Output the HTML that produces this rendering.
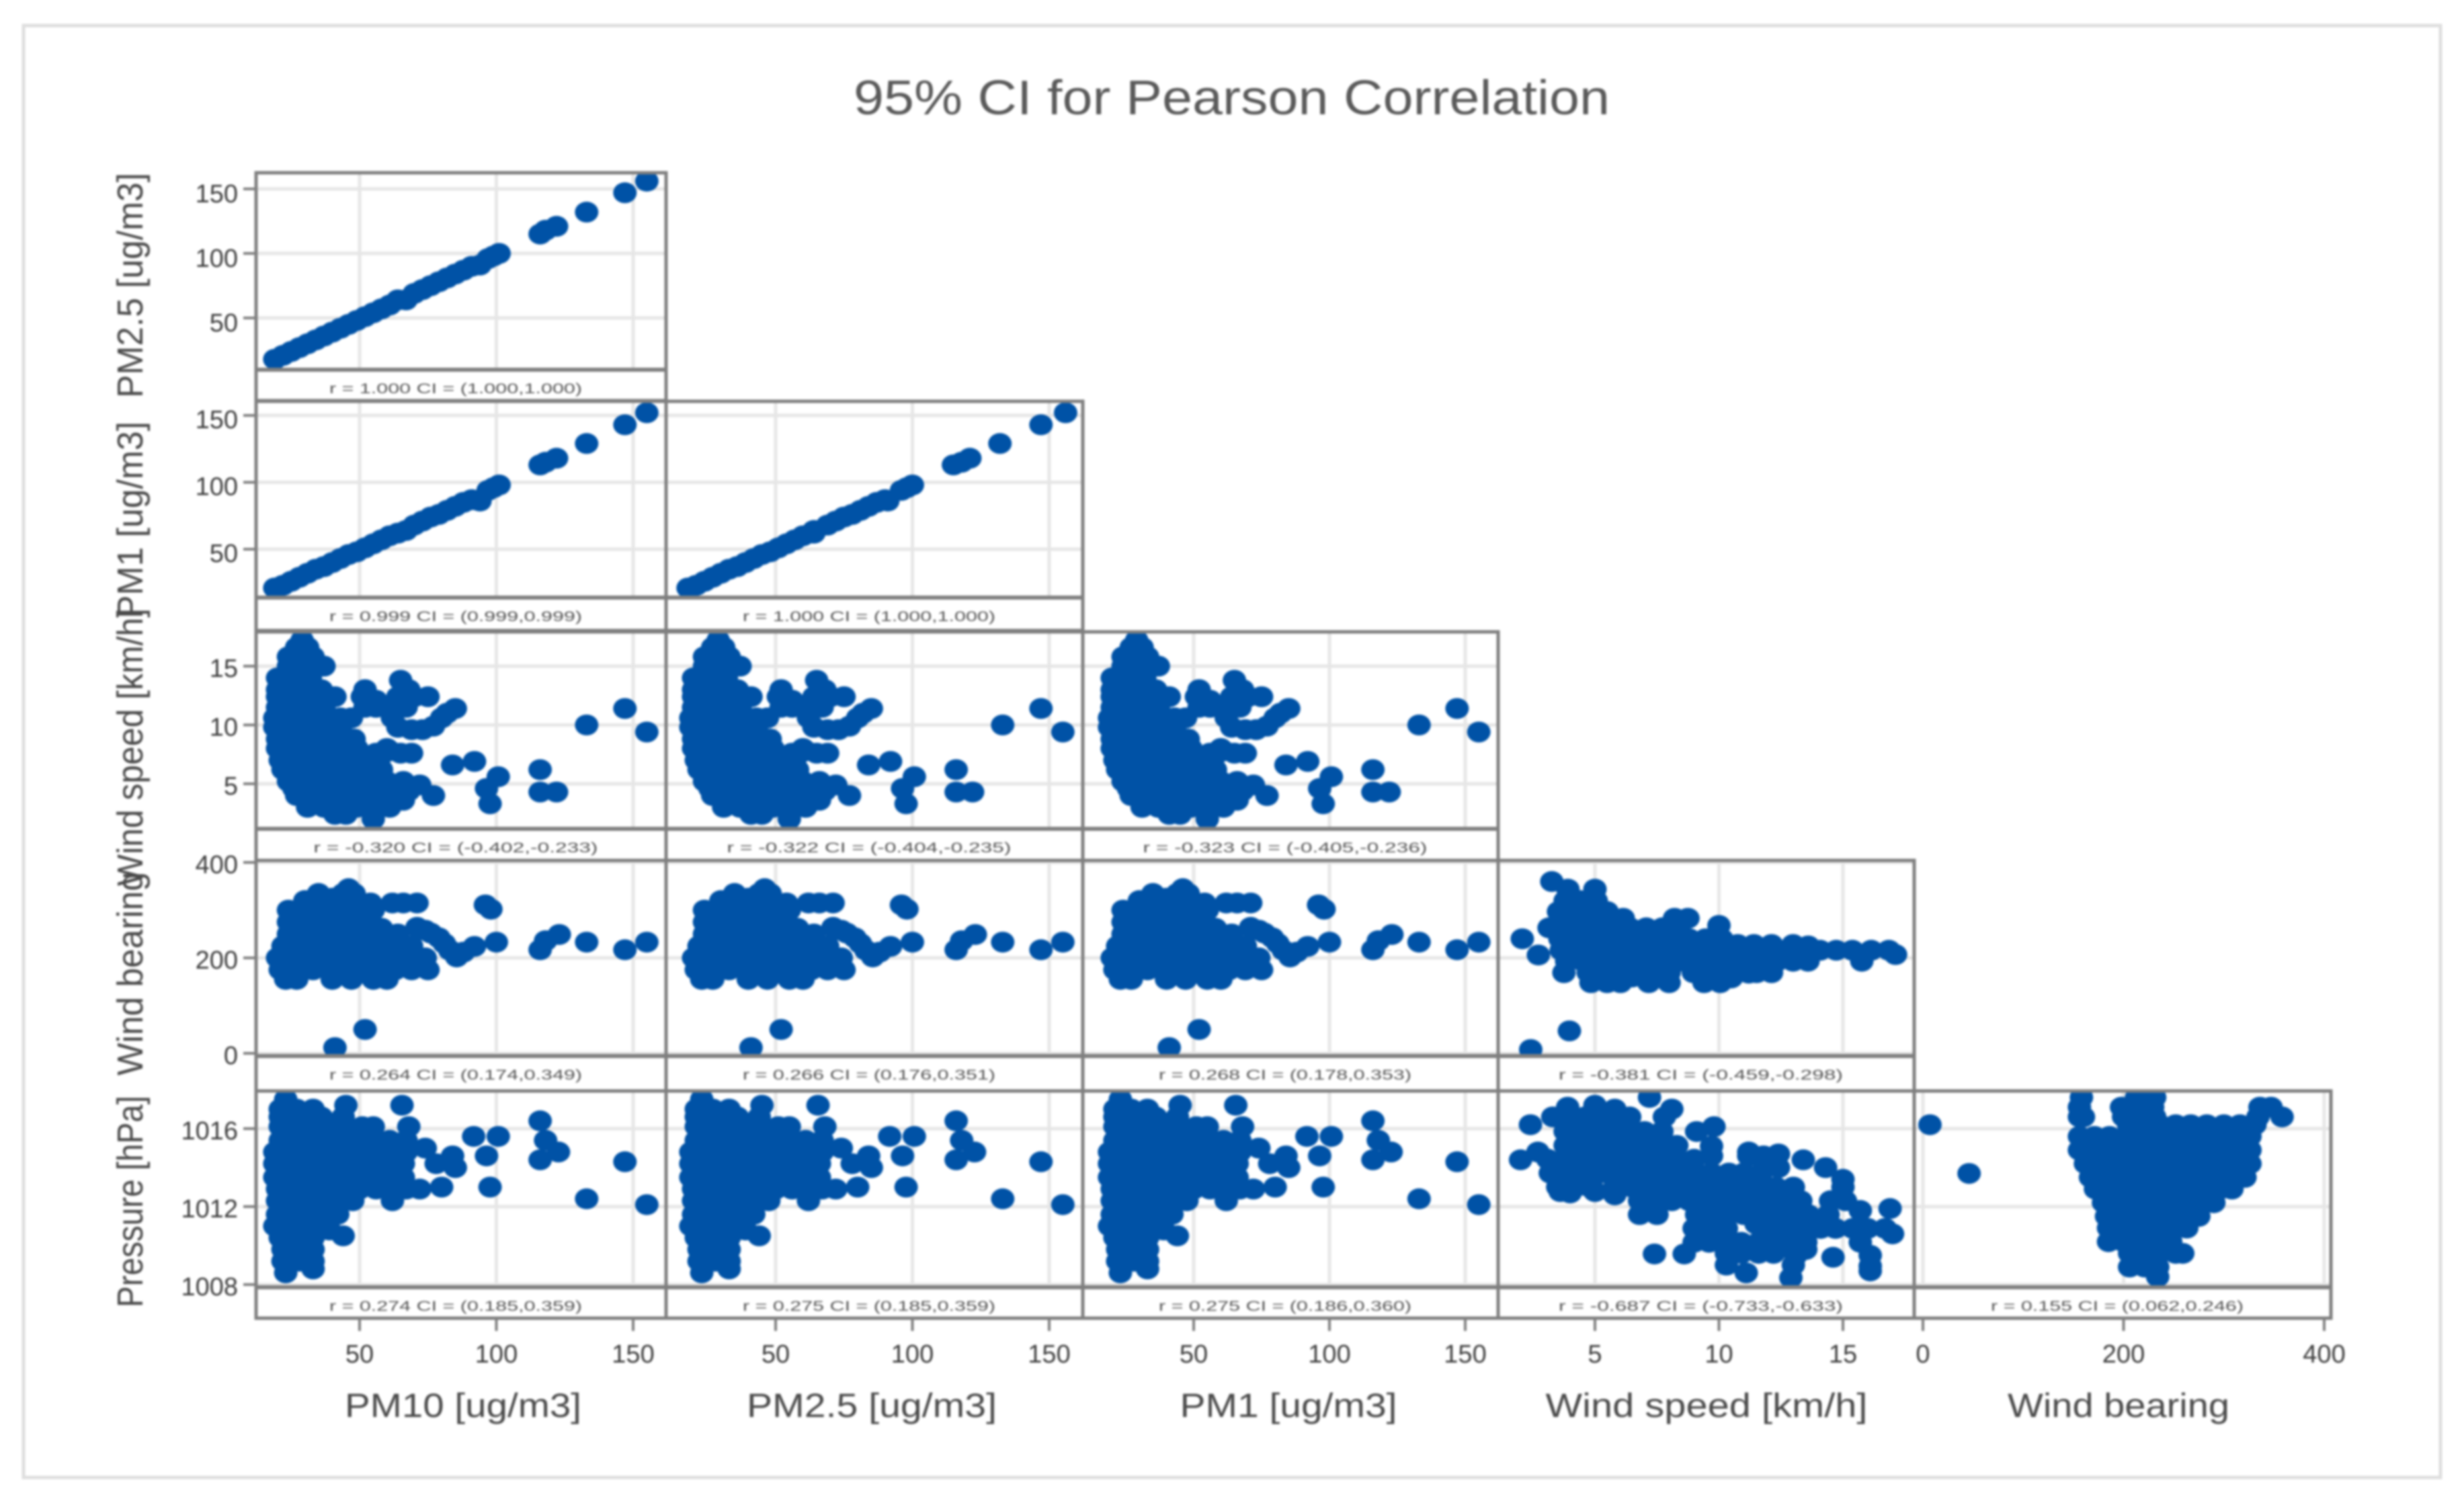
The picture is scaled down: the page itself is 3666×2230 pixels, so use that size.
<!DOCTYPE html>
<html lang="en">
<head>
<meta charset="utf-8">
<title>95% CI for Pearson Correlation</title>
<style>
html,body{margin:0;padding:0;background:#fff;}
body{width:3666px;height:2230px;overflow:hidden;}
svg{display:block;filter:blur(1.5px);}
text{font-family:"Liberation Sans",sans-serif;}
</style>
</head>
<body>
<svg id="chart" xmlns="http://www.w3.org/2000/svg" width="3666" height="2230" viewBox="0 0 3666 2230"></svg>
<script>
// ---- labels and ticks ----
const chartTitle = "95% CI for Pearson Correlation";
const xTitles = ["PM10 [ug/m3]", "PM2.5 [ug/m3]", "PM1 [ug/m3]", "Wind speed [km/h]", "Wind bearing"];
const yTitles = ["PM2.5 [ug/m3]", "PM1 [ug/m3]", "Wind speed [km/h]", "Wind bearing", "Pressure [hPa]"];
const pmTicks = [50, 100, 150];
const windTicks = [5, 10, 15];
const bearingTicks = [0, 200, 400];
const pressureTicks = [1008, 1012, 1016];

// ---- correlation captions ----
const captionR = [
  ["1.000"],
  ["0.999", "1.000"],
  ["-0.320", "-0.322", "-0.323"],
  ["0.264", "0.266", "0.268", "-0.381"],
  ["0.274", "0.275", "0.275", "-0.687", "0.155"]
];
const captionCI = [
  ["(1.000,1.000)"],
  ["(0.999,0.999)", "(1.000,1.000)"],
  ["(-0.402,-0.233)", "(-0.404,-0.235)", "(-0.405,-0.236)"],
  ["(0.174,0.349)", "(0.176,0.351)", "(0.178,0.353)", "(-0.459,-0.298)"],
  ["(0.185,0.359)", "(0.185,0.359)", "(0.186,0.360)", "(-0.733,-0.633)", "(0.062,0.246)"]
];

// ---- series ----
const pm10Line = [19,22,25,28,31,34,37,40,43,46,49,52,55,58,61,64,67,70,73,76,79,82,85,88,91,94,97,99,101,116,118,122,133,147,155];
const pm25Line = [18,21,24,27,30,33,36,39,42,45,48,51,54,57,60,64,64,69,72,75,78,81,84,87,90,91,96,98,100,115,118,121,132,147,156];
const pm1Line  = [21,23,26,29,32,35,37,40,43,46,48,51,54,57,60,62,64,68,71,74,76,79,82,85,87,86,94,96,98,113,115,118,129,143,152];

const pmWindX = [
 29,
 27,31,
 24,29,33,
 24,30,37,
 20,26,32,
 65,
 20,25,31,36,52,68,
 20,26,32,41,51,56,64,70,75,
 20,25,31,37,52,56,60,67,85,
 19,25,31,37,43,47,62,80,
 19,25,31,37,43,64,69,73,77,
 20,26,32,38,44,48,
 20,26,32,38,44,49,60,
 56,65,69,
 21,26,32,38,44,48,54,92,
 22,28,34,40,46,52,58,84,
 24,30,36,42,48,54,60,66,
 27,33,39,45,51,57,63,68,72,77,
 31,37,43,49,55,61,66,
 41,45,
 55,
 133,147,155,116,116,122,100.7,96.4,97.7,
 26,32,38,44,50,56,62,68,
 82,61,57,53
];
const pmWindY = [
 17.2,
 16.6,16.6,
 15.8,15.8,15.8,
 15,15,15,
 14,14,14,
 13.8,
 13,13,13,13,13,13,
 12.4,12.4,12.4,12.4,12.4,12.1,12.4,12.4,12.4,
 11.5,11.5,11.5,11.5,11.5,11.5,11.5,11.5,11.4,
 10.6,10.6,10.6,10.6,10.6,10.6,10.6,10.6,
 9.8,9.8,9.8,9.8,9.8,9.8,9.6,9.6,9.9,
 8.8,8.8,8.8,8.8,8.8,8.8,
 8,8,8,8,8,8,8,
 7.6,7.6,7.6,
 7,7,7,7,7,7,7,6.9,
 6.2,6.2,6.2,6.2,6.2,6.2,6.2,6.6,
 5.2,5.2,5.2,5.2,5.2,5.2,5.2,5.2,
 4,4,4,4,4,4,4,4.6,4.9,4,
 3,3,3,3,3,3,3.6,
 2.4,2.4,
 2,
 10,11.4,9.4,6.2,4.3,4.3,5.6,4.6,3.3,
 4.6,4.6,4.6,4.6,4.6,4.6,4.6,4.4,
 11,7.8,7,6.4
];

const pmBearingX = [
 46,
 35,44,48,
 33,44,50,54,62,66,71,96,
 24,28,33,38,44,50,55,98,
 24,30,36,42,48,54,71,
 24,29,35,41,47,53,59,64,76,123,
 22,28,34,40,46,52,58,64,69,
 81,100,118,133,155,
 92,116,147,
 20,26,32,38,44,50,56,62,68,74,85.5,
 21,27,33,39,45,51,57,63,69,75,
 23,27,40,47,55,60,
 41,52,
 74,79,83,88,58,40,30
];
const pmBearingY = [
 345,
 335,335,335,
 315,315,315,315,315,315,315,311,
 300,300,300,300,300,300,300,302,
 275,275,275,275,275,275,264,
 250,250,250,250,250,250,250,250,252,249,
 225,225,225,225,225,225,225,225,225,
 230,233,236,233,233,
 224,217,217,
 200,200,200,200,200,200,200,200,200,200,202,
 175,175,175,175,175,175,175,175,175,175,
 155,155,155,155,155,155,
 12,50,
 258,242,216,212,262,325,320
];

const pmPressureX = [
 23,
 21,27,33,45,65.5,
 21,27,33,36,44,
 21,27,33,39,45,51,55,68,
 21,25,31,37,43,49,55,61,67,
 19,25,31,37,43,49,55,61,67,74,84,
 19,25,31,37,43,49,55,61,66,78,85,
 19,25,31,37,43,49,54,60,66,
 20,26,32,38,44,50,56,61,67,72,80,
 20,26,32,38,44,47.5,62,
 20,26,32,38,42,
 19,25,31,37,
 21,27,33,39,44,
 22,28,33,
 22,28,33,
 23,33,
 91.7,100.7,96.4,97.7,116,118,122.7,116,147,133,155
];
const pmPressureY = [
 1017.5,
 1017,1017,1017,1017.2,1017.2,
 1016.6,1016.6,1016.6,1016.6,1016.6,
 1016.1,1016.1,1016.1,1016.1,1016.1,1016.1,1016.1,1016.1,
 1015.4,1015.4,1015.4,1015.4,1015.4,1015.4,1015.4,1015.4,1015.4,
 1014.8,1014.8,1014.8,1014.8,1014.8,1014.8,1014.8,1014.8,1014.8,1015,1014.6,
 1014.2,1014.2,1014.2,1014.2,1014.2,1014.2,1014.2,1014.2,1014.2,1014.2,1014,
 1013.5,1013.5,1013.5,1013.5,1013.5,1013.5,1013.5,1013.5,1013.5,
 1012.9,1012.9,1012.9,1012.9,1012.9,1012.9,1012.9,1012.9,1012.9,1012.9,1013,
 1012.3,1012.3,1012.3,1012.3,1012.3,1012.3,1012.3,
 1011.6,1011.6,1011.6,1011.6,1011.6,
 1011,1011,1011,1011,
 1010.4,1010.4,1010.4,1010.8,1010.5,
 1009.8,1009.8,1009.8,
 1009.2,1009.2,1009.2,
 1008.6,1008.8,
 1015.6,1015.6,1014.6,1013,1016.4,1015.4,1014.8,1014.4,1014.3,1012.4,1012.1
];

const windBearingX = [
 3.26,
 3.91,5,
 3.8,4.4,5.05,
 3.53,4.18,4.84,5.49,
 6.14,8.21,8.75,
 3.15,3.8,4.46,5.11,5.76,6.41,7.07,7.72,8.37,
 10,
 3.59,4.24,4.89,5.54,6.2,6.85,7.5,8.15,8.8,9.46,10.11,
 10.76,11.41,12.12,12.99,
 2.07,
 3.64,4.29,4.95,5.6,6.25,6.9,7.55,8.21,8.86,9.51,10.16,10.82,11.47,12.12,12.77,13.42,14.08,14.73,15.38,16.14,16.85,
 2.72,17.12,
 3.86,4.51,5.16,5.82,6.47,7.12,7.77,8.42,9.08,9.73,10.38,11.03,11.68,12.34,12.99,13.59,15.76,
 3.75,4.73,5.38,6.03,7.17,7.99,8.97,9.62,10.27,11.52,12.12,
 4.84,5.49,6.03,7.17,7.99,9.4,10.05,
 3.97,2.41,
 5.6,6.5,7.1,10.5,11.2,13.6
];
const windBearingY = [
 360,
 344,344,
 320,320,320,
 297,297,297,297,
 283,283,283,
 263,263,263,263,263,263,263,263,263,
 268,
 240,240,240,240,240,240,240,240,240,240,240,
 228,228,228,228,
 240,
 216,216,216,216,216,216,216,216,216,216,216,216,216,216,216,216,216,216,216,216,216,
 206,207,
 193,193,193,193,193,193,193,193,193,193,193,193,193,193,193,193,193,
 169,169,169,169,169,169,169,169,169,169,169,
 148,148,148,148,148,148,148,
 47,8,
 160,160,158,158,168,225
];

const windPressureX = [
 7.2,
 3.9,5,5.8,8.1,
 3.3,3.9,4.6,5.3,5.9,6.4,7.8,
 2.4,
 3.8,4.4,5.1,5.7,6.4,7,7.7,9.1,9.8,
 3.8,4.4,5.1,5.7,6.4,7,7.7,8.3,9.7,11.2,
 2.7,
 3.1,3.8,4.4,5.1,5.7,6.4,7,7.7,8.3,9,9.7,11.2,11.8,12.4,13.4,
 2,
 3.2,3.9,4.5,5.2,5.8,6.5,7.1,7.8,8.4,9.1,9.7,10.4,11,11.7,12.4,14.3,15,
 3.5,4.2,4.8,5.8,6.5,7.1,7.8,8.4,9.1,9.7,10.4,11,11.7,12.3,13,15,
 3.6,4,5,5.8,
 6.8,7.5,8.1,8.8,9.4,10,10.7,11.4,12,12.7,13.3,14.5,15.1,
 6.8,7.5,9.1,9.7,10.3,11,11.6,12.3,13,13.6,14.4,15.7,16.9,
 9,9.6,10.3,11.5,12.1,12.8,13.4,14.1,14.7,15.4,16,16.7,17,
 9,9.6,10.3,10.9,11.6,12.2,12.9,13.5,15.7,
 7.4,8.6,10.3,10.9,11.6,12.2,13.1,13.5,14.6,16.1,
 10.3,13,16.1,
 11.1,12.9,16.1
];
const windPressureY = [
 1017.6,
 1017.1,1017.2,1017,1017,
 1016.6,1016.6,1016.6,1016.6,1016.6,1016.6,1016.6,
 1016.2,
 1015.85,1015.85,1015.85,1015.85,1015.85,1015.85,1015.85,1015.85,1016.1,
 1015.14,1015.14,1015.14,1015.14,1015.14,1015.14,1015.14,1015.14,1015.1,1014.8,
 1014.8,
 1014.43,1014.43,1014.43,1014.43,1014.43,1014.43,1014.43,1014.43,1014.43,1014.43,1014.6,1014.6,1014.6,1014.7,1014.4,
 1014.4,
 1013.72,1013.72,1013.72,1013.72,1013.72,1013.72,1013.72,1013.72,1013.72,1013.72,1013.72,1013.72,1013.72,1013.72,1014,1014,1013.4,
 1013,1013,1013,1013,1013,1013,1013,1013,1013,1013,1013,1013,1013,1013,1013,1013,
 1012.77,1012.7,1012.77,1012.6,
 1012.3,1012.3,1012.3,1012.3,1012.3,1012.3,1012.3,1012.3,1012.3,1012.3,1012.3,1012.3,1012.3,
 1011.59,1011.59,1011.59,1011.59,1011.59,1011.59,1011.59,1011.59,1011.59,1011.59,1011.59,1011.8,1011.9,
 1010.88,1010.88,1010.88,1011.1,1010.88,1010.88,1010.88,1010.88,1010.88,1010.88,1010.88,1010.88,1010.6,
 1010.17,1010.17,1010.17,1010.17,1010.17,1010.17,1010.17,1010.17,1010.17,
 1009.57,1009.57,1009.6,1009.6,1009.6,1009.6,1009.5,1009.8,1009.4,1009.5,
 1009,1009,1008.95,
 1008.6,1008.35,1008.7
];

const bearingPressureX = [
 158,213,231,
 156,198,213,229,336,347,
 156,160,200,216,231,334,358,
 205,221,236,252,267,283,300,316,331,7,
 156,171,186,202,217,233,248,264,279,294,309,326,
 156,171,186,202,217,233,248,264,279,294,309,326,
 162,177,192,208,223,239,254,270,285,300,315,326,
 167,182,198,213,229,244,260,275,290,306,321,46,
 172,188,203,219,234,250,265,280,296,308,
 180,195,211,226,242,257,273,290,
 183,198,214,229,244,259,275,
 185,200,216,231,244,263,
 185,200,216,231,247,
 206,221,236,252,259,
 206,221,234,
 234
];
const bearingPressureY = [
 1017.6,1017.6,1017.6,
 1017.1,1017.1,1017.1,1017.1,1017.1,1017.1,
 1016.6,1016.6,1016.6,1016.6,1016.6,1016.6,1016.6,
 1016.2,1016.2,1016.2,1016.2,1016.2,1016.2,1016.2,1016.2,1016.2,1016.2,
 1015.6,1015.6,1015.6,1015.6,1015.6,1015.6,1015.6,1015.6,1015.6,1015.6,1015.6,1015.6,
 1014.9,1014.9,1014.9,1014.9,1014.9,1014.9,1014.9,1014.9,1014.9,1014.9,1014.9,1014.9,
 1014.2,1014.2,1014.2,1014.2,1014.2,1014.2,1014.2,1014.2,1014.2,1014.2,1014.2,1014.2,
 1013.5,1013.5,1013.5,1013.5,1013.5,1013.5,1013.5,1013.5,1013.5,1013.5,1013.5,1013.7,
 1012.9,1012.9,1012.9,1012.9,1012.9,1012.9,1012.9,1012.9,1012.9,1012.9,
 1012.2,1012.2,1012.2,1012.2,1012.2,1012.2,1012.2,1012.2,
 1011.5,1011.5,1011.5,1011.5,1011.5,1011.5,1011.5,
 1010.9,1010.9,1010.9,1010.9,1010.9,1010.9,
 1010.2,1010.2,1010.2,1010.2,1010.2,
 1009.6,1009.6,1009.6,1009.6,1009.6,
 1008.9,1008.9,1008.9,
 1008.4
];

// ---- which series draw in which panel: [row, column, x series, y series] ----
const panelSeries = [
 [0,0,pm10Line,pm25Line],
 [1,0,pm10Line,pm1Line],
 [1,1,pm25Line,pm1Line],
 [2,0,pmWindX,pmWindY],[2,1,pmWindX,pmWindY],[2,2,pmWindX,pmWindY],
 [3,0,pmBearingX,pmBearingY],[3,1,pmBearingX,pmBearingY],[3,2,pmBearingX,pmBearingY],[3,3,windBearingX,windBearingY],
 [4,0,pmPressureX,pmPressureY],[4,1,pmPressureX,pmPressureY],[4,2,pmPressureX,pmPressureY],[4,3,windPressureX,windPressureY],[4,4,bearingPressureX,bearingPressureY]
];

// ---- layout and axis functions ----
const NS = "http://www.w3.org/2000/svg";
const svg = document.getElementById("chart");
const colEdges = [381, 991, 1611, 2229, 2848, 3468];
const plotTop = [257, 597, 940, 1280, 1623];
const plotBottom = [550, 889, 1233, 1571, 1915];
const captionBottom = [596, 938, 1280, 1623, 1961];
const xAxes = [
 {v0:50,p0:535,v1:150,p1:942,ticks:pmTicks},
 {v0:50,p0:1154,v1:150,p1:1561,ticks:pmTicks},
 {v0:50,p0:1776,v1:150,p1:2180,ticks:pmTicks},
 {v0:5,p0:2373,v1:15,p1:2742,ticks:windTicks},
 {v0:0,p0:2861,v1:400,p1:3458,ticks:bearingTicks}
];
const yAxes = [
 {v0:50,p0:473,v1:150,p1:281,ticks:pmTicks},
 {v0:50,p0:817,v1:150,p1:618,ticks:pmTicks},
 {v0:5,p0:1166,v1:15,p1:991,ticks:windTicks},
 {v0:0,p0:1567,v1:400,p1:1283,ticks:bearingTicks},
 {v0:1008,p0:1911,v1:1016,p1:1679,ticks:pressureTicks}
];
function scale(axis, v){ return axis.p0 + (v - axis.v0) * (axis.p1 - axis.p0) / (axis.v1 - axis.v0); }
function xPos(col, v){ return scale(xAxes[col], v); }
function yPos(row, v){ return scale(yAxes[row], v); }
function make(tag, attrs, parent, txt){
  const el = document.createElementNS(NS, tag);
  for (const k in attrs) el.setAttribute(k, attrs[k]);
  if (txt !== undefined) el.textContent = txt;
  (parent || svg).appendChild(el);
  return el;
}

const BORDER = "#7f7f7f", GRID = "#e6e6e6", DOT = "#0052a6", LABEL = "#3c3c3c";
const labelShift = [6, 5, 2, 2, 2];

// outer frame
const frame = make("rect", {x:35,y:38,width:3596,height:2160,fill:"#fff",stroke:"#dedede","stroke-width":5});



// chart title
const titleEl = make("text", {x:1270,y:170,"font-size":72,fill:"#5a5a5a",textLength:1125,lengthAdjust:"spacingAndGlyphs"}, svg, chartTitle);



// panels
const defs = make("defs", {});
panelSeries.forEach(function(p, i){
  const r = p[0], c = p[1], xs = p[2], ys = p[3];
  const L = colEdges[c], R = colEdges[c+1], T = plotTop[r], B = plotBottom[r], C = captionBottom[r];
  const g = make("g", {});
  
  

  yAxes[r].ticks.forEach(function(t){
    const ln = make("line", {x1:L,x2:R,y1:yPos(r,t),y2:yPos(r,t),stroke:GRID,"stroke-width":5}, g);
    
    
  });
  xAxes[c].ticks.forEach(function(t){
    const ln = make("line", {x1:xPos(c,t),x2:xPos(c,t),y1:T,y2:B,stroke:GRID,"stroke-width":5}, g);
    
    
  });

  const cp = make("clipPath", {id:"clip" + i}, defs);
  make("rect", {x:L,y:T,width:R-L,height:B-T}, cp);
  const marks = make("g", {"clip-path":"url(#clip" + i + ")"}, g);
  
  
  const n = Math.min(xs.length, ys.length);
  for (let k = 0; k < n; k++) {
    const pt = make("ellipse", {cx:xPos(c,xs[k]),cy:yPos(r,ys[k]),rx:17.5,ry:15.5,fill:DOT}, marks);
    
    
  }

  const box = make("rect", {x:L,y:T,width:R-L,height:C-T,fill:"none",stroke:BORDER,"stroke-width":5}, g);
  
  
  const sep = make("line", {x1:L,x2:R,y1:B,y2:B,stroke:BORDER,"stroke-width":6}, g);
  
  

  const rv = captionR[r][c], cv = captionCI[r][c];
  const cap = make("text", {x:(L+R)/2-8,y:B+35,"font-size":21,fill:"#555","text-anchor":"middle",textLength:rv.charAt(0)==="-"?423:376,lengthAdjust:"spacingAndGlyphs"}, g, "r = " + rv + " CI = " + cv);
  
  
});

// y axes
yAxes.forEach(function(ax, r){
  ax.ticks.forEach(function(t){
    const y = yPos(r,t);
    const tk = make("line", {x1:362,x2:381,y1:y,y2:y,stroke:BORDER,"stroke-width":4});
    
    
    const lb = make("text", {x:354,y:y+14+labelShift[r],"font-size":38,fill:LABEL,"text-anchor":"end"}, svg, String(t));
    
    
  });
});
const yTitleSpans = [[257,592],[627,920],[905,1318],[1297,1600],[1630,1945]];
yTitles.forEach(function(t, r){
  const s = yTitleSpans[r];
  const el = make("text", {transform:"translate(212," + s[1] + ") rotate(-90)","font-size":54,fill:"#4a4a4a",textLength:s[1]-s[0],lengthAdjust:"spacingAndGlyphs"}, svg, t);
  
  
});

// x axes
xAxes.forEach(function(ax, c){
  ax.ticks.forEach(function(t){
    const x = xPos(c,t);
    const tk = make("line", {x1:x,x2:x,y1:1961,y2:1980,stroke:BORDER,"stroke-width":4});
    
    
    const lb = make("text", {x:x,y:2027,"font-size":38,fill:LABEL,"text-anchor":"middle"}, svg, String(t));
    
    
  });
});
const xTitleCenters = [689,1297,1917,2539,3152];
const xTitleWidths = [352,372,323,479,330];
xTitles.forEach(function(t, c){
  const el = make("text", {x:xTitleCenters[c],y:2108,"font-size":50,fill:"#4a4a4a","text-anchor":"middle",textLength:xTitleWidths[c],lengthAdjust:"spacingAndGlyphs"}, svg, t);
  
  
});
</script>
</body>
</html>
